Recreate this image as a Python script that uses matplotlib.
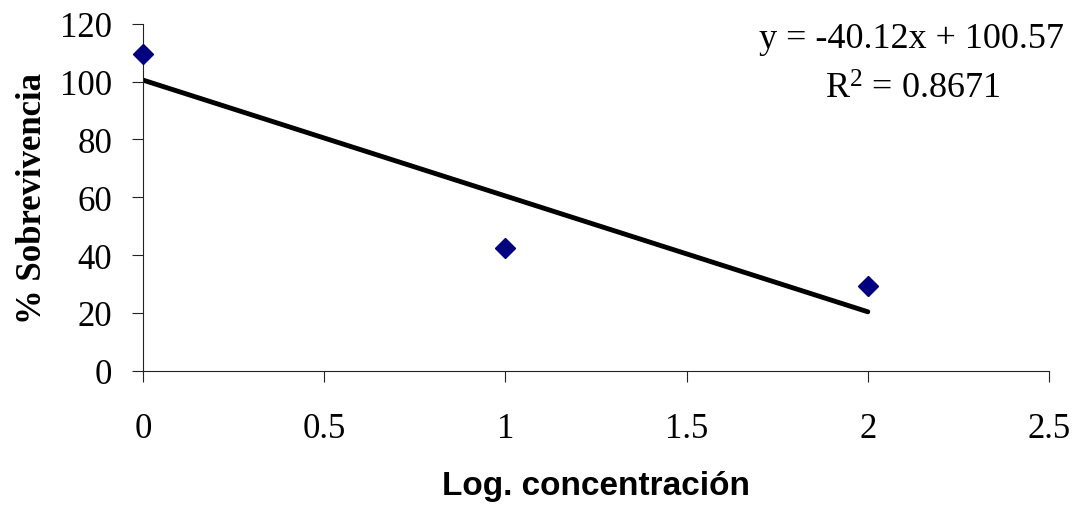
import numpy as np
import matplotlib
matplotlib.use("Agg")
import matplotlib.pyplot as plt

# data
log_conc = [0, 1, 2]
survival = [109.5, 42.3, 29.4]
slope = -40.12
intercept = 100.57
r_squared = 0.8671

x_ticks = [0, 0.5, 1, 1.5, 2, 2.5]
x_tick_labels = ["0", "0.5", "1", "1.5", "2", "2.5"]
y_ticks = [0, 20, 40, 60, 80, 100, 120]

serif = "Liberation Serif"
sans = "Liberation Sans"
plt.rcParams["mathtext.fontset"] = "custom"
plt.rcParams["mathtext.rm"] = serif
plt.rcParams["mathtext.it"] = serif

fig = plt.figure(figsize=(10.78, 5.06), dpi=100)
ax = fig.add_axes([0.1327, 0.2658, 0.9731 - 0.1327, 0.9506 - 0.2658])

# trend line from the displayed equation
xl = np.array([min(log_conc), max(log_conc)])
ax.plot(xl, slope * xl + intercept, color="black", lw=3.5, solid_capstyle="round", zorder=2)
ax.plot(log_conc, survival, linestyle="none", marker="D", ms=10,
        color="#000080", mec="#000080", zorder=3, clip_on=False)

ax.set_xlim(0, 2.5)
ax.set_ylim(0, 120)
ax.set_xticks(x_ticks)
ax.set_xticklabels(x_tick_labels)
ax.set_yticks(y_ticks)

for side in ("top", "right"):
    ax.spines[side].set_visible(False)
for side in ("left", "bottom"):
    ax.spines[side].set_linewidth(0.8)
    ax.spines[side].set_color("#222222")

ax.tick_params(axis="both", direction="out", length=8, width=0.8, color="#222222")
ax.tick_params(axis="x", pad=22)
ax.tick_params(axis="y", pad=14)
for lab in ax.get_xticklabels() + ax.get_yticklabels():
    lab.set_fontfamily(serif)
    lab.set_fontsize(25)

ax.set_ylabel("% Sobrevivencia", fontfamily=serif, fontweight="bold", fontsize=25, labelpad=8)
ax.set_xlabel("Log. concentración", fontfamily=sans, fontweight="bold", fontsize=24, labelpad=18)

fig.text(911 / 1078, 1 - 40 / 506, "y = -40.12x + 100.57", fontfamily=serif, fontsize=26,
         ha="center", va="center")
fig.text(913 / 1078, 1 - 90 / 506, "R$^2$ = %.4f" % r_squared, fontfamily=serif, fontsize=26,
         ha="center", va="center")

fig.savefig("out.png", dpi=100)
